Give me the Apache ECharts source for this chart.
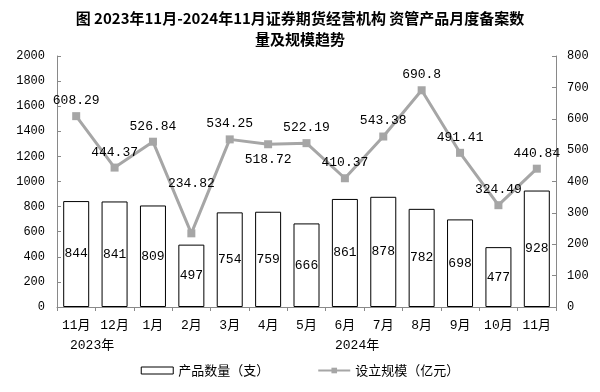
<!DOCTYPE html>
<html>
<head>
<meta charset="utf-8">
<script src="https://cdn.jsdelivr.net/npm/echarts@6/dist/echarts.min.js"></script>
<style>
html,body{margin:0;padding:0;background:#fff;}
#main{width:600px;height:392px;}
</style>
</head>
<body>
<div id="main"></div>
<script>
var categories = ['11月','12月','1月','2月','3月','4月','5月','6月','7月','8月','9月','10月','11月'];
var productCount = [844, 841, 809, 497, 754, 759, 666, 861, 878, 782, 698, 477, 928];
var scale = [608.29, 444.37, 526.84, 234.82, 534.25, 518.72, 522.19, 410.37, 543.38, 690.8, 491.41, 324.49, 440.84];
var leftTicks = {min: 0, max: 2000, interval: 200};
var rightTicks = {min: 0, max: 800, interval: 100};
var yearLabels = ['2023年', '2024年'];
var seriesNames = ['产品数量（支）', '设立规模（亿元）'];
var titleText = '图 2023年11月-2024年11月证券期货经营机构 资管产品月度备案数\n量及规模趋势';

var MONO = '"Liberation Mono", "DejaVu Sans Mono", "Noto Sans CJK SC", monospace';
var CJK = '"Noto Sans CJK SC", sans-serif';
var axisGray = '#898989';

var lineData = scale.map(function (v, i) {
  var item = {value: v};
  if (i === 5) item.label = {position: 'bottom'};
  if (i === 3) item.label = {offset: [0, -34]};
  return item;
});

function plain(v) { return String(v); }

var chart = echarts.init(document.getElementById('main'));
chart.setOption({
  animation: false,
  backgroundColor: '#fff',
  title: {
    text: titleText,
    left: 'center',
    top: 3,
    textStyle: {fontFamily: CJK, fontSize: 15, fontWeight: 'bold', color: '#000', lineHeight: 21}
  },
  grid: {left: 57, right: 44, top: 56, bottom: 85, containLabel: false},
  legend: {
    bottom: 10,
    left: 'center',
    itemWidth: 32,
    itemHeight: 7,
    itemGap: 48,
    textStyle: {fontFamily: CJK, fontSize: 13, color: '#000'},
    data: [
      {name: seriesNames[0], icon: 'rect', itemStyle: {color: '#fff', borderColor: '#000', borderWidth: 1}},
      {name: seriesNames[1]}
    ]
  },
  xAxis: {
    type: 'category',
    data: categories,
    axisLine: {lineStyle: {color: axisGray, width: 1}},
    axisTick: {show: true, length: 4, inside: false, lineStyle: {color: axisGray}},
    axisLabel: {fontFamily: MONO, fontSize: 13, color: '#000', margin: 12, interval: 0}
  },
  yAxis: [
    {
      type: 'value', min: leftTicks.min, max: leftTicks.max, interval: leftTicks.interval,
      splitLine: {show: false},
      axisLine: {show: true, lineStyle: {color: axisGray}},
      axisTick: {show: true, inside: true, length: 4, lineStyle: {color: axisGray}},
      axisLabel: {fontFamily: MONO, fontSize: 12, color: '#000', margin: 12, formatter: plain}
    },
    {
      type: 'value', min: rightTicks.min, max: rightTicks.max, interval: rightTicks.interval,
      splitLine: {show: false},
      axisLine: {show: true, lineStyle: {color: axisGray}},
      axisTick: {show: true, inside: true, length: 4, lineStyle: {color: axisGray}},
      axisLabel: {fontFamily: MONO, fontSize: 12, color: '#000', margin: 11, formatter: plain}
    }
  ],
  series: [
    {
      name: seriesNames[0],
      type: 'bar',
      yAxisIndex: 0,
      data: productCount,
      barWidth: 26,
      itemStyle: {color: '#fff', borderColor: '#000', borderWidth: 1},
      label: {show: true, position: 'inside', fontFamily: MONO, fontSize: 13, color: '#000'}
    },
    {
      name: seriesNames[1],
      type: 'line',
      yAxisIndex: 1,
      data: lineData,
      symbol: 'rect',
      symbolSize: 8,
      lineStyle: {color: '#a6a6a6', width: 3},
      itemStyle: {color: '#a6a6a6'},
      label: {show: true, position: 'top', distance: 5, fontFamily: MONO, fontSize: 13, color: '#000'},
      z: 3
    }
  ],
  graphic: [
    {type: 'text', left: 95 - 25, top: 339, style: {text: yearLabels[0], font: '13px ' + MONO, fill: '#000', textAlign: 'left'}},
    {type: 'text', left: 360 - 25, top: 339, style: {text: yearLabels[1], font: '13px ' + MONO, fill: '#000', textAlign: 'left'}}
  ]
});
</script>
</body>
</html>
